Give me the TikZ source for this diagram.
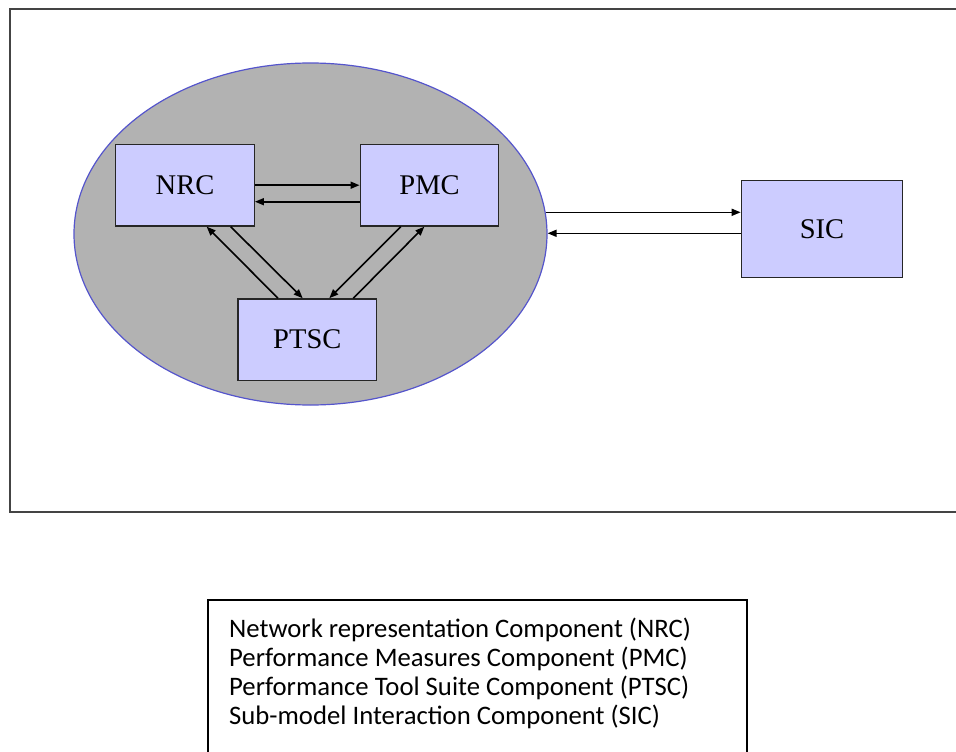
\documentclass[tikz,border=0pt]{standalone}
\usepackage{fontspec}
\setmainfont{Liberation Serif}
\newfontfamily\legendfont{Carlito}
\usetikzlibrary{shapes.geometric,arrows.meta,calc}
\definecolor{boxfill}{HTML}{CCCCFF}
\definecolor{ellfill}{HTML}{B2B2B2}
\definecolor{ellline}{HTML}{5555CC}
\definecolor{framec}{HTML}{444444}
\begin{document}
\begin{tikzpicture}[x=1pt,y=-1pt,
  comp/.style={draw=black!85,line width=1.3pt,fill=boxfill,minimum width=138.6pt,minimum height=81.7pt,inner sep=0pt,font=\fontsize{28.5}{31}\selectfont},
  conn/.style={line width=1.6pt,-{Triangle[length=9pt,width=7pt]}},
  leg/.style={anchor=base west,inner sep=0pt,font=\legendfont\fontsize{26.7}{29}\selectfont}]
\useasboundingbox (0,0) rectangle (956,752);
% outer frame (open on the right)
\draw[framec,line width=2pt] (980,9) -- (9.5,9) -- (9.5,512) -- (980,512);
% ellipse
\node[ellipse,draw=ellline,line width=1.2pt,fill=ellfill,minimum width=473pt,minimum height=342pt,inner sep=0pt] (ell) at (310.5,234) {};
% components
\node[comp] (nrc) at (185,185.2) {NRC};
\node[comp] (pmc) at (429.5,185.2) {PMC};
\node[comp] (ptsc) at (307.3,339.7) {PTSC};
\node[comp,minimum width=161.4pt,minimum height=96.6pt] (sic) at (822,229) {SIC};
% connectors
\draw[conn] (nrc.east) -- (pmc.west);
\draw[conn] ($(pmc.west)+(0,16.5)$) -- ($(nrc.east)+(0,16.5)$);
\draw[conn] ($(ptsc.north)+(-29.3,0)$) -- ($(nrc.south)+(21.7,0)$);
\draw[conn] ($(nrc.south)+(45.7,0)$) -- ($(ptsc.north)+(-4.6,0)$);
\draw[conn] ($(pmc.south)+(-28.8,0)$) -- ($(ptsc.north)+(22,0)$);
\draw[conn] ($(ptsc.north)+(46,0)$) -- ($(pmc.south)+(-5.2,0)$);
\draw[conn] ($(ell.east)+(-1.8,-21.7)$) -- ($(sic.west)+(0,-16.7)$);
\draw[conn] ($(sic.west)+(0,4.3)$) -- ($(ell.east)+(0,-0.7)$);
% legend
\draw[black,line width=1.5pt] (208,770) -- (208,600) -- (747,600) -- (747,770);
\node[leg] (l1) at (229,637) {Network representation Component (NRC)};
\node[leg] (l2) at (229,666) {Performance Measures Component (PMC)};
\node[leg] (l3) at (229,695) {Performance Tool Suite Component (PTSC)};
\node[leg] (l4) at (229,724) {Sub-model Interaction Component (SIC)};
\end{tikzpicture}
\end{document}
